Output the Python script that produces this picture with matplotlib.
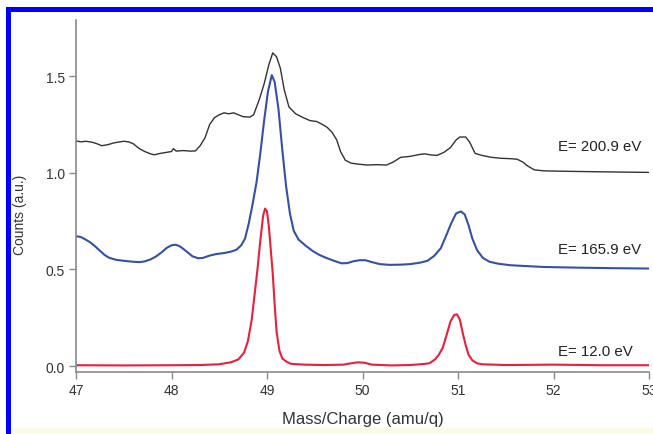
import matplotlib
matplotlib.use("Agg")
import matplotlib.pyplot as plt
from matplotlib.patches import Rectangle

plt.rcParams['font.family'] = ['Liberation Sans', 'DejaVu Sans']

# ---- data ----
mass_black = [47.00, 47.05, 47.10, 47.17, 47.22, 47.27, 47.33, 47.40, 47.50, 47.55,
              47.60, 47.66, 47.72, 47.78, 47.82, 47.88, 47.94, 48.00, 48.02, 48.05,
              48.12, 48.20, 48.25, 48.30, 48.35, 48.40, 48.45, 48.50, 48.55, 48.60,
              48.65, 48.70, 48.75, 48.82, 48.86, 48.92, 48.97, 49.02, 49.06, 49.10,
              49.14, 49.18, 49.23, 49.30, 49.38, 49.45, 49.52, 49.58, 49.63, 49.68,
              49.73, 49.77, 49.82, 49.88, 49.95, 50.05, 50.15, 50.25, 50.32, 50.40,
              50.50, 50.60, 50.65, 50.72, 50.78, 50.85, 50.92, 50.98, 51.02, 51.08,
              51.12, 51.18, 51.25, 51.35, 51.45, 51.55, 51.62, 51.68, 51.73, 51.80,
              51.90, 52.10, 52.50, 53.00]
counts_black = [1.165, 1.160, 1.163, 1.158, 1.150, 1.140, 1.145, 1.155, 1.163, 1.160,
                1.150, 1.126, 1.110, 1.098, 1.093, 1.100, 1.105, 1.110, 1.125, 1.112,
                1.115, 1.112, 1.113, 1.140, 1.180, 1.250, 1.285, 1.300, 1.310, 1.305,
                1.310, 1.300, 1.290, 1.288, 1.300, 1.380, 1.460, 1.560, 1.620, 1.600,
                1.540, 1.430, 1.340, 1.305, 1.285, 1.270, 1.265, 1.250, 1.235, 1.210,
                1.170, 1.110, 1.065, 1.050, 1.045, 1.040, 1.042, 1.040, 1.055, 1.080,
                1.085, 1.095, 1.098, 1.092, 1.090, 1.105, 1.130, 1.170, 1.185, 1.185,
                1.160, 1.100, 1.090, 1.080, 1.075, 1.073, 1.070, 1.055, 1.035, 1.015,
                1.010, 1.008, 1.005, 1.002]

mass_blue = [47.00, 47.05, 47.10, 47.15, 47.20, 47.25, 47.30, 47.35, 47.42, 47.50,
             47.60, 47.67, 47.72, 47.78, 47.84, 47.90, 47.95, 48.00, 48.04, 48.08,
             48.12, 48.17, 48.22, 48.28, 48.33, 48.40, 48.47, 48.55, 48.62, 48.68,
             48.73, 48.77, 48.81, 48.85, 48.89, 48.93, 48.97, 49.01, 49.05, 49.08,
             49.12, 49.16, 49.20, 49.24, 49.28, 49.33, 49.40, 49.48, 49.55, 49.62,
             49.70, 49.78, 49.84, 49.90, 49.97, 50.03, 50.10, 50.18, 50.28, 50.40,
             50.50, 50.60, 50.68, 50.75, 50.82, 50.88, 50.93, 50.98, 51.03, 51.07,
             51.11, 51.15, 51.20, 51.26, 51.33, 51.42, 51.55, 51.70, 51.90, 52.20,
             52.60, 53.00]
counts_blue = [0.672, 0.668, 0.655, 0.640, 0.620, 0.597, 0.575, 0.560, 0.550, 0.545,
               0.540, 0.538, 0.542, 0.552, 0.568, 0.590, 0.612, 0.625, 0.628, 0.622,
               0.608, 0.588, 0.568, 0.558, 0.560, 0.572, 0.580, 0.585, 0.592, 0.602,
               0.625, 0.660, 0.740, 0.840, 0.950, 1.100, 1.270, 1.420, 1.505, 1.470,
               1.330, 1.120, 0.930, 0.790, 0.700, 0.655, 0.625, 0.595, 0.575, 0.560,
               0.545, 0.532, 0.533, 0.542, 0.548, 0.548, 0.538, 0.528, 0.524, 0.525,
               0.528, 0.535, 0.545, 0.570, 0.610, 0.680, 0.740, 0.790, 0.800, 0.785,
               0.730, 0.660, 0.600, 0.560, 0.540, 0.530, 0.522, 0.518, 0.513, 0.510,
               0.507, 0.505]

mass_red = [47.00, 47.50, 48.00, 48.30, 48.50, 48.62, 48.70, 48.76, 48.80, 48.84,
            48.87, 48.90, 48.93, 48.96, 48.98, 49.00, 49.02, 49.04, 49.06, 49.08,
            49.10, 49.13, 49.16, 49.20, 49.25, 49.40, 49.60, 49.80, 49.88, 49.95,
            50.02, 50.10, 50.30, 50.50, 50.65, 50.70, 50.76, 50.80, 50.84, 50.88,
            50.92, 50.96, 50.99, 51.02, 51.05, 51.08, 51.11, 51.15, 51.20, 51.25,
            51.50, 52.00, 52.50, 53.00]
counts_red = [0.005, 0.004, 0.005, 0.006, 0.010, 0.020, 0.035, 0.070, 0.130, 0.240,
              0.370, 0.500, 0.650, 0.780, 0.815, 0.800, 0.720, 0.600, 0.480, 0.320,
              0.180, 0.080, 0.040, 0.025, 0.012, 0.008, 0.006, 0.008, 0.015, 0.020,
              0.018, 0.008, 0.004, 0.006, 0.012, 0.015, 0.035, 0.060, 0.095, 0.160,
              0.230, 0.265, 0.268, 0.240, 0.170, 0.110, 0.060, 0.030, 0.015, 0.010,
              0.006, 0.008, 0.005, 0.005]

labels = ["E= 200.9 eV", "E= 165.9 eV", "E= 12.0 eV"]
label_y = [1.14, 0.608, 0.08]

x_ticks = [47, 48, 49, 50, 51, 52, 53]
y_ticks = [0.0, 0.5, 1.0, 1.5]

# ---- figure ----
W, H = 653, 435
fig = plt.figure(figsize=(W / 100, H / 100), dpi=100)
fig.patch.set_facecolor('white')

# pale strip at the bottom
fig.patches.append(Rectangle((11 / W, 0), (W - 11) / W, 6 / H, transform=fig.transFigure,
                             facecolor='#fcfce6', edgecolor='none', zorder=0))
# blue frame (top and left edges visible)
fig.patches.append(Rectangle((6 / W, 0), 5 / W, (H - 8) / H, transform=fig.transFigure,
                             facecolor='#0000ff', edgecolor='none', zorder=5))
fig.patches.append(Rectangle((6 / W, (H - 13) / H), (W - 6) / W, 5 / H, transform=fig.transFigure,
                             facecolor='#0000ff', edgecolor='none', zorder=5))

ax = fig.add_axes([76 / W, 1 - 373 / H, (649 - 76) / W, (373 - 21) / H])
ax.set_facecolor('none')

ax.plot(mass_black, counts_black, color='#333333', lw=1.0)
ax.plot(mass_blue, counts_blue, color='#3550a8', lw=1.5)
ax.plot(mass_red, counts_red, color='#e8203c', lw=1.5)

for t, yv in zip(labels, label_y):
    ax.text(52.05, yv, t, fontsize=10.8, color='#222222', ha='left', va='center')

ax.set_xlim(47, 53)
ax.set_ylim(-0.03, 1.79)
ax.set_xticks(x_ticks)
ax.set_yticks(y_ticks)
ax.set_xticklabels([str(v) for v in x_ticks])
ax.set_yticklabels([f"{v:.1f}" for v in y_ticks])

for s in ['top', 'right']:
    ax.spines[s].set_visible(False)
for s in ['left', 'bottom']:
    ax.spines[s].set_color('#8a8a8a')
    ax.spines[s].set_linewidth(1.2)

ax.tick_params(axis='both', direction='out', length=5, width=1.0, color='#8a8a8a',
               labelsize=10, labelcolor='#333333', pad=3)

ax.set_xlabel('Mass/Charge (amu/q)', fontsize=12, color='#333333', labelpad=10)
ax.set_ylabel('Counts (a.u.)', fontsize=10, color='#333333')
ax.yaxis.set_label_coords(-0.085, 0.45)

fig.savefig('out.png', dpi=100)
